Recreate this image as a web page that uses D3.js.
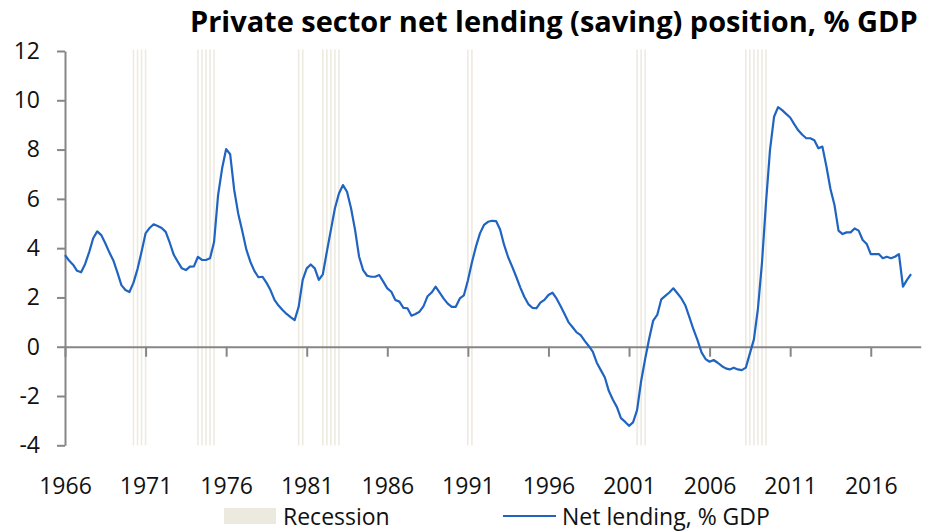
<!DOCTYPE html>
<html>
<head>
<meta charset="utf-8">
<script src="https://cdn.jsdelivr.net/npm/d3@7"></script>
<style>
  html, body { margin: 0; padding: 0; background: #fff; }
  svg { display: block; font-family: "Open Sans", "Noto Sans", sans-serif; }
</style>
</head>
<body>
<svg id="chart" width="930" height="532"></svg>
<script>
// Private sector net lending, % of GDP, quarterly from 1966Q1
const startYear = 1966;
const netLending = [
  3.72, 3.50, 3.33, 3.08,   // 1966
  3.02, 3.36, 3.84, 4.40,   // 1967
  4.68, 4.53, 4.20, 3.83,   // 1968
  3.50, 3.02, 2.50, 2.30,   // 1969
  2.22, 2.60, 3.15, 3.85,   // 1970
  4.60, 4.82, 4.97, 4.90,   // 1971
  4.82, 4.66, 4.22, 3.73,   // 1972
  3.45, 3.18, 3.11, 3.25,   // 1973
  3.26, 3.65, 3.52, 3.52,   // 1974
  3.59, 4.25, 6.15, 7.24,   // 1975
  8.02, 7.81, 6.36, 5.40,   // 1976
  4.70, 3.95, 3.45, 3.08,   // 1977
  2.82, 2.84, 2.60, 2.30,   // 1978
  1.90, 1.67, 1.49, 1.33,   // 1979
  1.20, 1.08, 1.62, 2.71,   // 1980
  3.18, 3.34, 3.18, 2.71,   // 1981
  2.94, 3.86, 4.74, 5.62,   // 1982
  6.22, 6.56, 6.29, 5.62,   // 1983
  4.74, 3.65, 3.11, 2.88,   // 1984
  2.84, 2.84, 2.91, 2.64,   // 1985
  2.37, 2.23, 1.90, 1.83,   // 1986
  1.58, 1.56, 1.26, 1.33,   // 1987
  1.42, 1.65, 2.05, 2.20,   // 1988
  2.44, 2.20, 1.95, 1.75,   // 1989
  1.62, 1.62, 1.96, 2.08,   // 1990
  2.69, 3.42, 4.06, 4.60,   // 1991
  4.94, 5.07, 5.11, 5.10,   // 1992
  4.76, 4.13, 3.63, 3.25,   // 1993
  2.84, 2.41, 2.03, 1.73,   // 1994
  1.58, 1.56, 1.79, 1.90,   // 1995
  2.10, 2.19, 1.96, 1.65,   // 1996
  1.33, 0.99, 0.79, 0.58,   // 1997
  0.47, 0.24, 0.03, -0.20,  // 1998
  -0.65, -0.95, -1.25, -1.80, // 1999
  -2.15, -2.45, -2.90, -3.04, // 2000
  -3.21, -3.07, -2.57, -1.40, // 2001
  -0.50, 0.32, 1.06, 1.29,  // 2002
  1.92, 2.06, 2.20, 2.37,   // 2003
  2.17, 1.96, 1.67, 1.19,   // 2004
  0.70, 0.27, -0.23, -0.50, // 2005
  -0.61, -0.54, -0.65, -0.78, // 2006
  -0.88, -0.92, -0.85, -0.92, // 2007
  -0.95, -0.85, -0.27, 0.30,  // 2008
  1.55, 3.40, 5.85, 8.00,   // 2009
  9.33, 9.72, 9.60, 9.45,   // 2010
  9.30, 9.03, 8.78, 8.60,   // 2011
  8.46, 8.46, 8.38, 8.05,   // 2012
  8.12, 7.31, 6.40, 5.75,   // 2013
  4.71, 4.57, 4.64, 4.64,   // 2014
  4.80, 4.71, 4.33, 4.17,   // 2015
  3.76, 3.76, 3.76, 3.59,   // 2016
  3.65, 3.59, 3.65, 3.76,   // 2017
  2.44, 2.71, 2.95          // 2018
];

// NBER recession quarters
const recessionQuarters = [
  "1970Q1", "1970Q2", "1970Q3", "1970Q4",
  "1974Q1", "1974Q2", "1974Q3", "1974Q4", "1975Q1",
  "1980Q2", "1980Q3",
  "1981Q4", "1982Q1", "1982Q2", "1982Q3", "1982Q4",
  "1990Q4", "1991Q1",
  "2001Q2", "2001Q3", "2001Q4",
  "2008Q1", "2008Q2", "2008Q3", "2008Q4", "2009Q1", "2009Q2"
];

const xTickYears = [1966, 1971, 1976, 1981, 1986, 1991, 1996, 2001, 2006, 2011, 2016];
const yTickValues = [-4, -2, 0, 2, 4, 6, 8, 10, 12];

const titleText = "Private sector net lending (saving) position, % GDP";
const legendRecession = "Recession";
const legendLine = "Net lending, % GDP";

// ---- layout ----
const svg = d3.select("#chart");
const plot = { left: 65, right: 920.7, top: 51, bottom: 445.3 };
const lineColor = "#1F64C0";
const axisColor = "#868686";
const barColor = "#ECE9DE";
const labelFont = "'Open Sans', 'Noto Sans', sans-serif";

const x = d3.scaleLinear().domain([1966, 2019.1]).range([plot.left, plot.right]);
const y = d3.scaleLinear().domain([-4, 12]).range([plot.bottom, plot.top]);

const series = netLending.map((v, i) => ({ t: startYear + i / 4, v }));

// time of the end of a quarter such as "1970Q1"
const quarterEnd = q => +q.slice(0, 4) + (+q.slice(5)) / 4;

// recession shading: one slim column per quarter
svg.append("g")
  .selectAll("rect")
  .data(recessionQuarters)
  .join("rect")
  .attr("x", d => x(quarterEnd(d)) - 0.75)
  .attr("width", 1.5)
  .attr("y", y(12) - 1.5)
  .attr("height", y(-4) - y(12) + 1.5)
  .attr("fill", barColor);

// y axis (plain hyphen for negatives)
const yAxis = svg.append("g")
  .attr("transform", `translate(${plot.left},0)`)
  .call(d3.axisLeft(y).tickValues(yTickValues).tickSize(8).tickSizeOuter(0)
    .tickPadding(17).tickFormat(d => String(d)));
yAxis.select(".domain").attr("stroke", axisColor).attr("stroke-width", 2);
yAxis.selectAll(".tick line").attr("stroke", axisColor).attr("stroke-width", 2);
yAxis.selectAll(".tick text")
  .attr("fill", "#111")
  .style("font-size", "23px")
  .style("font-family", labelFont);

// x axis along zero, ticks only
const xAxis = svg.append("g")
  .attr("transform", `translate(0,${y(0)})`)
  .call(d3.axisBottom(x).tickValues(xTickYears).tickSize(10).tickSizeOuter(0).tickFormat(""));
xAxis.select(".domain").attr("stroke", axisColor).attr("stroke-width", 2);
xAxis.selectAll(".tick line").attr("stroke", axisColor).attr("stroke-width", 2);

// year labels along the bottom
const xLabels = svg.append("g")
  .attr("transform", `translate(0,${plot.bottom + 29})`)
  .call(d3.axisBottom(x).tickValues(xTickYears).tickSize(0).tickFormat(d => String(d)));
xLabels.select(".domain").remove();
xLabels.selectAll(".tick text")
  .attr("fill", "#111")
  .style("font-size", "23px")
  .style("font-family", labelFont);

// net lending line
svg.append("path")
  .datum(series)
  .attr("fill", "none")
  .attr("stroke", lineColor)
  .attr("stroke-width", 2.2)
  .attr("stroke-linejoin", "round")
  .attr("d", d3.line().x(d => x(d.t)).y(d => y(d.v)));

// title, fitted between its left edge and the right margin
const title = svg.append("text")
  .attr("x", 190)
  .attr("y", 32)
  .attr("font-weight", "bold")
  .attr("font-size", 25)
  .attr("fill", "#000")
  .text(titleText);
const tw = title.node().getComputedTextLength();
title.attr("font-size", 25 * 728 / tw);

// legend
const legend = svg.append("g").style("font-size", "23px").attr("fill", "#111");
legend.append("rect")
  .attr("x", 224).attr("y", 508).attr("width", 52).attr("height", 16)
  .attr("fill", barColor);
legend.append("text").attr("x", 283).attr("y", 525).text(legendRecession);
legend.append("line")
  .attr("x1", 503).attr("x2", 556).attr("y1", 516).attr("y2", 516)
  .attr("stroke", lineColor).attr("stroke-width", 2.2);
legend.append("text").attr("x", 562).attr("y", 525).text(legendLine);
</script>
</body>
</html>
